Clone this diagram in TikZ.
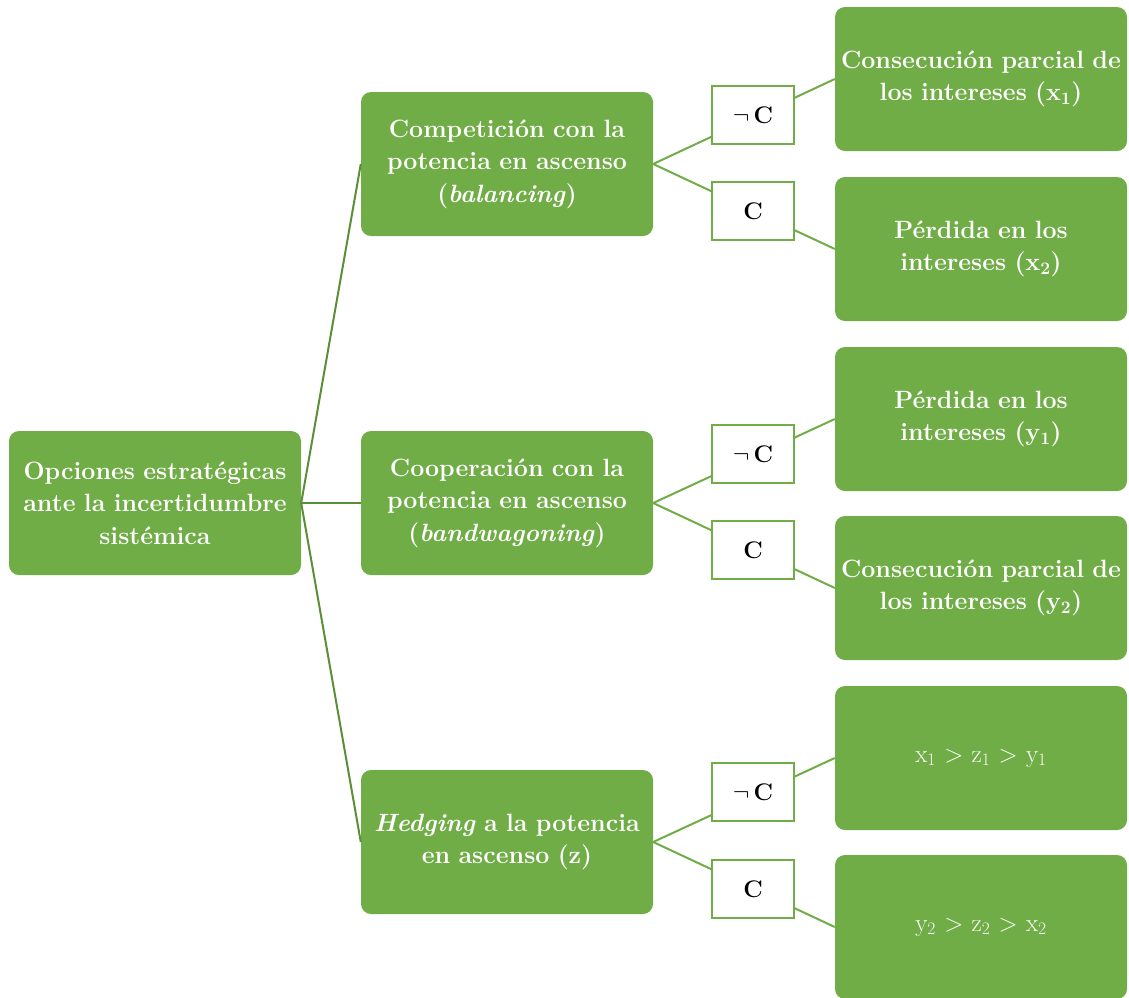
\documentclass[tikz,border=0pt]{standalone}
\usepackage{fontspec}
\definecolor{boxgreen}{HTML}{70AD47}
\definecolor{rootline}{HTML}{5A8F38}
\tikzset{
  x=1pt, y=-1pt,
  gbox/.style={draw=none, fill=boxgreen, rounded corners=10pt, minimum width=292pt, minimum height=144pt,
    text=white, font=\fontsize{25}{32.5}\selectfont\bfseries, align=center, inner sep=0pt, text width=290pt},
  cbox/.style={draw=boxgreen, line width=1.5pt, fill=white, minimum width=82pt, minimum height=58pt,
    inner sep=0pt, font=\fontsize{24}{26}\selectfont\bfseries},
  rline/.style={draw=rootline, line width=2pt},
  bline/.style={draw=boxgreen, line width=2pt},
}
\begin{document}
\begin{tikzpicture}
\useasboundingbox (0,0) rectangle (1129,997);
% root
\node[gbox] (root) at (155,503) {Opciones estratégicas\\ante la incertidumbre\\sistémica};
% level 1
\node[gbox] (b1) at (507,164) {Competición con la\\potencia en ascenso\\(\textit{balancing})};
\node[gbox] (b2) at (507,503) {Cooperación con la\\potencia en ascenso\\(\textit{bandwagoning})};
\node[gbox] (b3) at (507,842) {\textit{Hedging} a la potencia\\en ascenso (z)};
% level 2
\node[gbox] (r1a) at (981,79) {Consecución parcial de\\los intereses (x\textsubscript{1})};
\node[gbox] (r1b) at (981,249) {Pérdida en los\\intereses (x\textsubscript{2})};
\node[gbox] (r2a) at (981,419) {Pérdida en los\\intereses (y\textsubscript{1})};
\node[gbox] (r2b) at (981,588) {Consecución parcial de\\los intereses (y\textsubscript{2})};
\node[gbox, font=\fontsize{25}{32}\selectfont] (r3a) at (981,758) {x\textsubscript{1} > z\textsubscript{1} > y\textsubscript{1}};
\node[gbox, font=\fontsize{25}{32}\selectfont] (r3b) at (981,927) {y\textsubscript{2} > z\textsubscript{2} > x\textsubscript{2}};
% connectors root
\draw[rline] (root.east) -- (b1.west);
\draw[rline] (root.east) -- (b2.west);
\draw[rline] (root.east) -- (b3.west);
% connectors level 2
\draw[bline] (b1.east) -- (r1a.west);
\draw[bline] (b1.east) -- (r1b.west);
\draw[bline] (b2.east) -- (r2a.west);
\draw[bline] (b2.east) -- (r2b.west);
\draw[bline] (b3.east) -- (r3a.west);
\draw[bline] (b3.east) -- (r3b.west);
% labels
\node[cbox] (l1a) at (753,115) {$\neg$\,C};
\node[cbox] (l1b) at (753,211) {C};
\node[cbox] (l2a) at (753,454) {$\neg$\,C};
\node[cbox] (l2b) at (753,550) {C};
\node[cbox] (l3a) at (753,792) {$\neg$\,C};
\node[cbox] (l3b) at (753,889) {C};
\end{tikzpicture}
\end{document}
